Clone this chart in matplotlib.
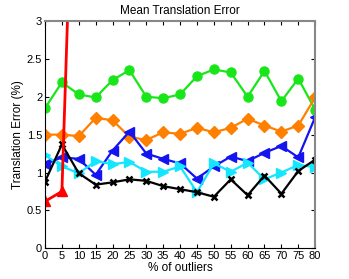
import numpy as np
import matplotlib
matplotlib.use('Agg')
import matplotlib.pyplot as plt

plt.rcParams['font.family'] = ['Liberation Sans', 'DejaVu Sans']

outliers = [0, 5, 10, 15, 20, 25, 30, 35, 40, 45, 50, 55, 60, 65, 70, 75, 80]

green = [1.85, 2.19, 2.03, 1.99, 2.22, 2.35, 2.00, 1.98, 2.03, 2.27,
         2.36, 2.32, 2.00, 2.34, 1.94, 2.24, 1.83]
orange = [1.50, 1.50, 1.48, 1.72, 1.69, 1.47, 1.43, 1.53, 1.51, 1.59,
          1.53, 1.59, 1.71, 1.62, 1.54, 1.62, 1.99]
blue = [1.11, 1.20, 1.18, 0.97, 1.29, 1.54, 1.25, 1.18, 1.12, 0.92,
        1.08, 1.21, 1.15, 1.26, 1.35, 1.20, 1.73]
cyan = [1.23, 1.08, 0.99, 1.15, 1.11, 1.14, 1.01, 1.01, 1.08, 0.74,
        1.12, 1.01, 1.13, 0.91, 1.00, 1.10, 1.07]
black = [0.88, 1.37, 0.99, 0.84, 0.87, 0.91, 0.89, 0.82, 0.78, 0.74,
         0.68, 0.91, 0.70, 0.96, 0.72, 1.02, 1.17]
red_x = [0, 5, 10]
red = [0.62, 0.75, 7.6]

fig = plt.figure(figsize=(3.49, 2.79), dpi=100)
ax = fig.add_axes([0.129, 0.110, 0.774, 0.815])

lw = 1.6
ax.plot(outliers, green, '-o', color='#19e619', lw=lw, ms=6.5, mec='#19e619')
ax.plot(outliers, orange, '-D', color='#ff7f00', lw=lw, ms=6, mec='#ff7f00')
ax.plot(outliers, blue, '-<', color='#1414f0', lw=lw, ms=7.5, mec='#1414f0')
ax.plot(outliers, cyan, '->', color='#14e6ff', lw=lw, ms=7.5, mec='#14e6ff')
ax.plot(outliers, black, '-x', color='black', lw=lw, ms=4.5, mew=1.8)
ax.plot(red_x, red, '-^', color='red', lw=2.0, ms=7.5, mec='red')

ax.set_xlim(0, 80)
ax.set_ylim(0, 3)
ax.set_xticks(outliers)
ax.set_yticks([0, 0.5, 1, 1.5, 2, 2.5, 3])
ax.set_yticklabels(['0', '0.5', '1', '1.5', '2', '2.5', '3'])
ax.tick_params(direction='in', top=True, right=True, labelsize=8, length=3, pad=2)
for s in ['top', 'right']:
    ax.spines[s].set_color('#888888')
    ax.spines[s].set_linewidth(1.5)
ax.set_xlabel('% of outliers', fontsize=8.5, labelpad=1)
ax.set_ylabel('Translation Error (%)', fontsize=8.5, labelpad=2)
ax.set_title('Mean Translation Error', fontsize=8.5, pad=5)

fig.savefig('out.png', dpi=100)
